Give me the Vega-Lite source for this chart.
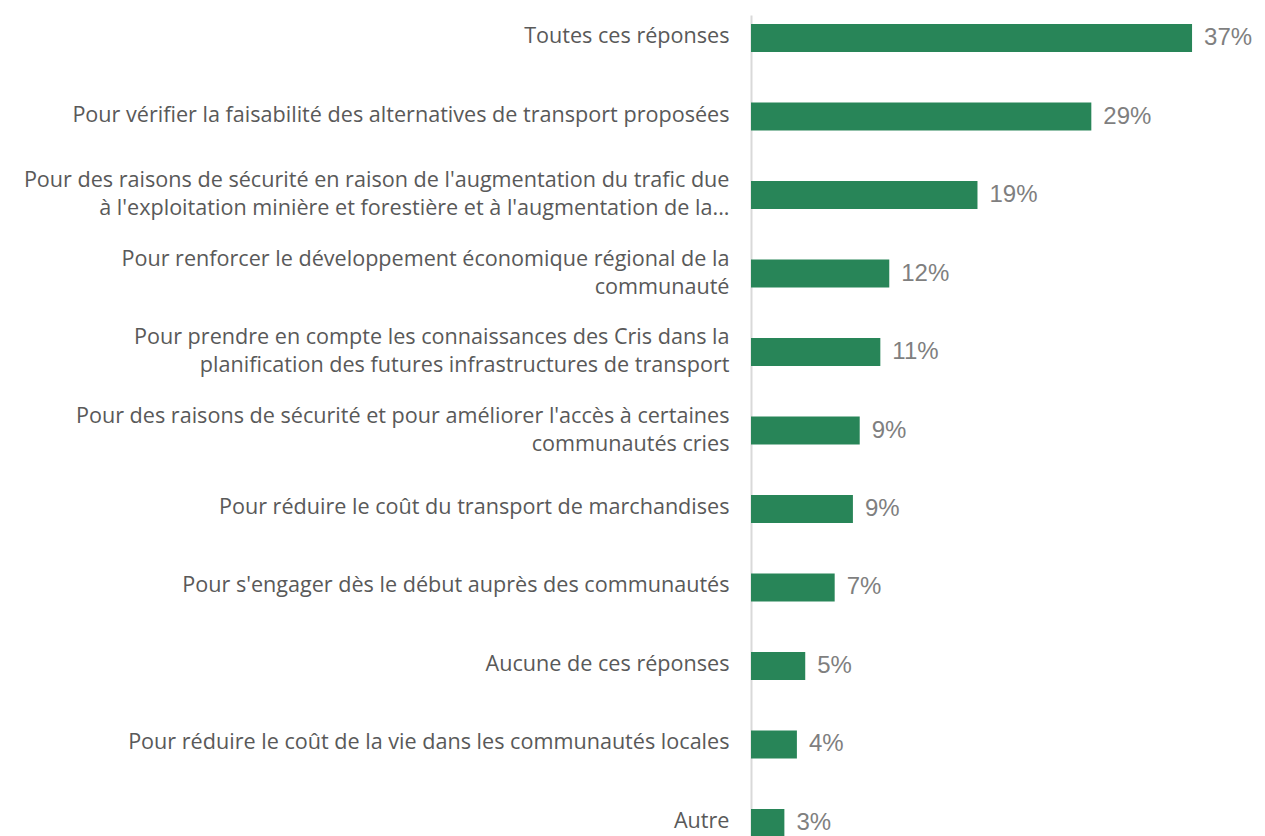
{
  "$schema": "https://vega.github.io/schema/vega-lite/v6.json",
  "autosize": "none",
  "width": 514,
  "height": 831,
  "padding": {"left": 751, "top": 15, "right": 0, "bottom": 0},
  "background": "white",
  "config": {"view": {"stroke": null}},
  "data": {
    "values": [
      {"reponse": "Toutes ces réponses", "part": 0.370},
      {"reponse": "Pour vérifier la faisabilité des alternatives de transport proposées", "part": 0.2855},
      {"reponse": "Pour des raisons de sécurité en raison de l'augmentation du trafic due\nà l'exploitation minière et forestière et à l'augmentation de la...", "part": 0.190},
      {"reponse": "Pour renforcer le développement économique régional de la\ncommunauté", "part": 0.116},
      {"reponse": "Pour prendre en compte les connaissances des Cris dans la\nplanification des futures infrastructures de transport", "part": 0.1085},
      {"reponse": "Pour des raisons de sécurité et pour améliorer l'accès à certaines\ncommunautés cries", "part": 0.0912},
      {"reponse": "Pour réduire le coût du transport de marchandises", "part": 0.0855},
      {"reponse": "Pour s'engager dès le début auprès des communautés", "part": 0.0702},
      {"reponse": "Aucune de ces réponses", "part": 0.0455},
      {"reponse": "Pour réduire le coût de la vie dans les communautés locales", "part": 0.0385},
      {"reponse": "Autre", "part": 0.028}
    ]
  },
  "encoding": {
    "y": {
      "field": "reponse",
      "type": "nominal",
      "sort": null,
      "scale": {"paddingInner": 0.643, "paddingOuter": 0.115},
      "axis": {
        "title": null,
        "ticks": false,
        "labelPadding": 22,
        "labelLimit": 900,
        "labelFont": "Open Sans",
        "labelFontSize": 21.6,
        "labelColor": "#595959",
        "labelLineHeight": 28,
        "labelOffset": {"condition": {"test": "indexof(datum.value, '\\n') >= 0", "value": -14}, "value": -1},
        "labelExpr": "split(datum.value, '\\n')",
        "domainColor": "#d9d9d9",
        "domainWidth": 2
      }
    },
    "x": {
      "field": "part",
      "type": "quantitative",
      "scale": {"domain": [0, 0.4312], "nice": false},
      "axis": null
    }
  },
  "layer": [
    {"mark": {"type": "bar", "color": "#288558"}},
    {
      "mark": {"type": "text", "align": "left", "dx": 12, "font": "Liberation Sans", "fontSize": 24, "color": "#7f7f7f"},
      "encoding": {"text": {"field": "part", "type": "quantitative", "format": ".0%"}}
    }
  ]
}
